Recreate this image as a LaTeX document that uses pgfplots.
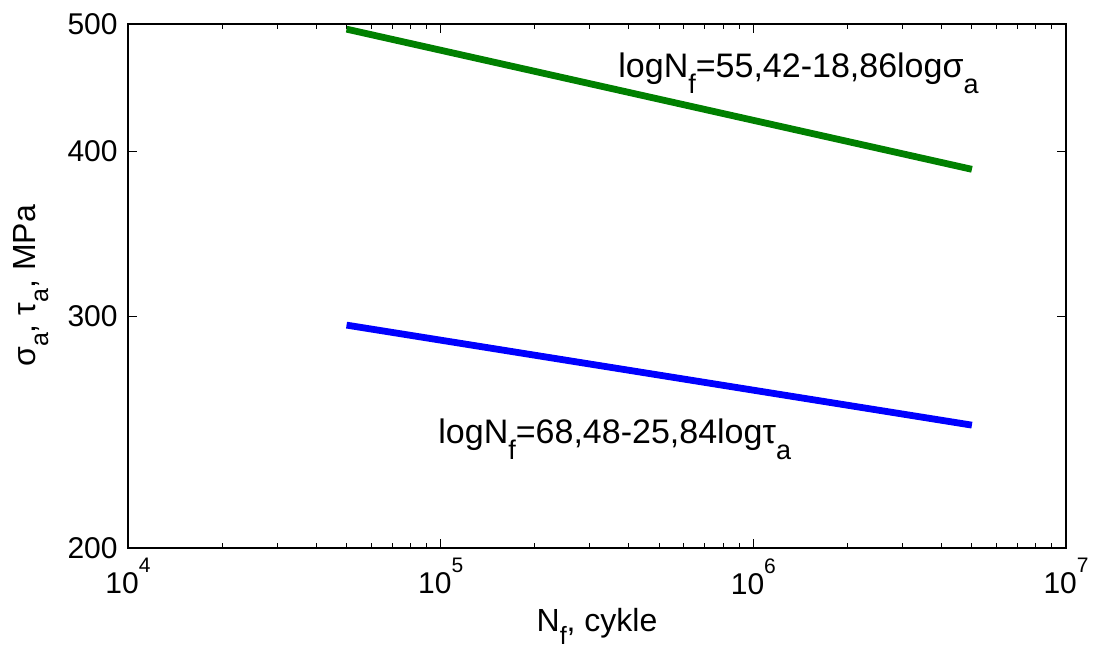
\documentclass[border=0pt]{standalone}
\usepackage{pgfplots}
\pgfplotsset{compat=1.18}
\usepackage{fontspec}
\setmainfont{Liberation Sans}
\newcommand\asub[1]{\raisebox{-8pt}{\fontsize{13.5}{14}\selectfont #1}}
\newcommand\lsub[1]{\raisebox{-6.5pt}{\fontsize{12.5}{13}\selectfont #1}}
\newcommand\mysup[1]{\raisebox{10.6pt}{\fontsize{10.5}{11}\selectfont #1}}
\begin{document}
\fontsize{15}{17}\selectfont
\begin{tikzpicture}
\begin{axis}[
  name=ax,
  xmode=log, ymode=log,
  scale only axis,
  width=469pt, height=262pt,
  xmin=1e4, xmax=1e7,
  ymin=200, ymax=500,
  xtick={1e4,1e5,1e6,1e7},
  xticklabels={10\mysup{4},10\mysup{5},10\mysup{6},10\mysup{7}},
  ytick={200,300,400,500},
  yticklabels={200,300,400,500},
  minor ytick={},
  tick align=inside,
  tick pos=both,
  major tick length=4.5pt,
  minor tick length=2.6pt,
  axis line style={line width=0.6pt},
  every tick/.style={black, line width=0.5pt},
  tick label style={font=\fontsize{15}{17}\selectfont},
  clip=false,
  every axis x label/.style={at={(axis description cs:0.5,-0.1603)}, anchor=base, font=\fontsize{16}{18}\selectfont},
  every axis y label/.style={at={(axis description cs:-0.0991,0.5)}, anchor=base, rotate=90, font=\fontsize{16}{18}\selectfont},
  xlabel={N\lsub{f}, cykle},
  ylabel={σ\lsub{a}, τ\lsub{a}, MPa},
]
\addplot[color={rgb,255:red,0;green,128;blue,0}, line width=3.4pt] coordinates {(5e4,495.5) (5e6,387.8)};
\addplot[color={rgb,255:red,0;green,0;blue,255}, line width=3.4pt] coordinates {(5e4,295.3) (5e6,247.9)};
\node[anchor=base west, inner sep=0pt, font=\fontsize{17}{19}\selectfont] at (rel axis cs:0.5224,0.897) {logN\asub{f}=55,42-18,86logσ\asub{a}};
\node[anchor=base west, inner sep=0pt, font=\fontsize{17}{19}\selectfont] at (rel axis cs:0.3305,0.1985) {logN\asub{f}=68,48-25,84logτ\asub{a}};
\end{axis}
\pgfresetboundingbox
\path[use as bounding box] ([shift={(-64pt,-50pt)}]ax.south west) rectangle ([shift={(16pt,12pt)}]ax.north east);
\end{tikzpicture}
\end{document}
